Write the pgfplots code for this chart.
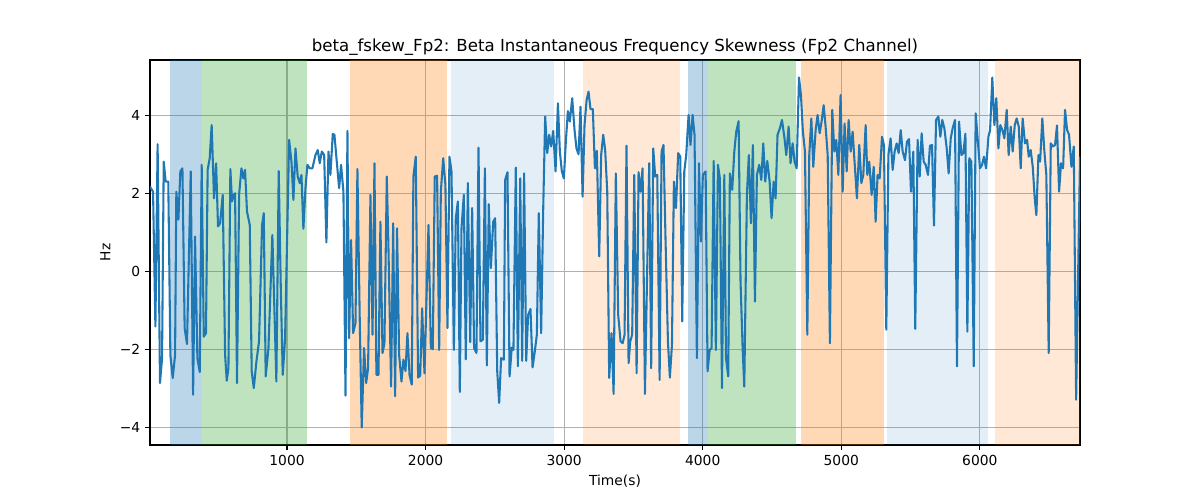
\documentclass[border=0pt]{standalone}
\usepackage{fontspec}
\setmainfont{DejaVu Sans}
\usepackage{pgfplots}
\pgfplotsset{compat=1.18}
\definecolor{tabblue}{HTML}{1F77B4}
\definecolor{tabgreen}{HTML}{2CA02C}
\definecolor{taborange}{HTML}{FF7F0E}
\definecolor{gridgray}{HTML}{B0B0B0}
\begin{document}
\begin{tikzpicture}
\path[use as bounding box] (0,0) rectangle (12in,5in);
\begin{axis}[at={(1.5in,0.55in)}, anchor=south west, scale only axis,
 width=9.3in, height=3.85in,
 xmin=11, xmax=6723, ymin=-4.46, ymax=5.42,
 xtick={1000,2000,3000,4000,5000,6000},
 xticklabels={1000,2000,3000,4000,5000,6000},
 ytick={-4,-2,0,2,4}, yticklabels={−4,−2,0,2,4},
 grid=major, grid style={gridgray, line width=0.8pt},
 axis line style={line width=0.8pt},
 tick style={black, line width=0.8pt}, major tick length=3.5pt,
 tick align=outside, tick pos=left,
 ticklabel style={font=\fontsize{10}{12}\selectfont},
 xlabel={Time(s)}, ylabel={Hz},
 label style={font=\fontsize{10}{12}\selectfont},
 title={beta\_fskew\_Fp2: Beta Instantaneous Frequency Skewness (Fp2 Channel)},
 title style={font=\fontsize{12}{14}\selectfont, yshift=-6pt},
 scaled x ticks=false, clip=true]
% shaded segments
\addplot[draw=none, fill=tabblue, fill opacity=0.3, forget plot] coordinates {(153,-4.46) (153,5.42) (389,5.42) (389,-4.46)} -- cycle;
\addplot[draw=none, fill=tabgreen, fill opacity=0.3, forget plot] coordinates {(389,-4.46) (389,5.42) (1147,5.42) (1147,-4.46)} -- cycle;
\addplot[draw=none, fill=taborange, fill opacity=0.3, forget plot] coordinates {(1453,-4.46) (1453,5.42) (2151,5.42) (2151,-4.46)} -- cycle;
\addplot[draw=none, fill=tabblue, fill opacity=0.12, forget plot] coordinates {(2182,-4.46) (2182,5.42) (2925,5.42) (2925,-4.46)} -- cycle;
\addplot[draw=none, fill=taborange, fill opacity=0.17, forget plot] coordinates {(3135,-4.46) (3135,5.42) (3835,5.42) (3835,-4.46)} -- cycle;
\addplot[draw=none, fill=tabblue, fill opacity=0.3, forget plot] coordinates {(3895,-4.46) (3895,5.42) (4035,5.42) (4035,-4.46)} -- cycle;
\addplot[draw=none, fill=tabgreen, fill opacity=0.3, forget plot] coordinates {(4035,-4.46) (4035,5.42) (4670,5.42) (4670,-4.46)} -- cycle;
\addplot[draw=none, fill=taborange, fill opacity=0.3, forget plot] coordinates {(4709,-4.46) (4709,5.42) (5308,5.42) (5308,-4.46)} -- cycle;
\addplot[draw=none, fill=tabblue, fill opacity=0.12, forget plot] coordinates {(5327,-4.46) (5327,5.42) (6057,5.42) (6057,-4.46)} -- cycle;
\addplot[draw=none, fill=taborange, fill opacity=0.17, forget plot] coordinates {(6109,-4.46) (6109,5.42) (6723,5.42) (6723,-4.46)} -- cycle;
% signal
\addplot[tabblue, line width=1.5pt, line join=round, mark=none] coordinates {
(11,2.17) (33,2.04) (50,-1.42) (66,3.26) (83,-2.87) (98,-2.23) (110,2.81) (124,2.30) (143,2.30) (158,-2.15) (175,-2.74) (192,-2.15) (201,2.04) (216,1.32) (230,2.56) (245,2.64) (261,-1.46) (278,-1.87) (305,2.56) (322,-3.17) (336,0.89) (353,-2.23) (370,-2.59) (384,2.73) (399,-1.68) (415,-1.59) (427,2.60) (442,2.90) (456,3.75) (473,1.87) (488,2.77) (502,1.15) (517,1.23) (536,1.96) (553,-2.15) (565,-2.81) (577,-2.49) (591,2.62) (603,1.79) (615,1.96) (625,2.00) (639,-2.87) (654,1.96) (671,2.64) (685,2.38) (697,2.60) (711,1.53) (731,1.19) (745,-2.57) (760,-3.00) (779,-2.32) (798,-1.80) (820,1.19) (832,1.49) (846,-2.70)
(866,-1.97) (894,0.93) (923,-2.83) (940,2.57) (955,-0.44) (969,-2.66) (986,-1.72) (1015,3.37) (1032,2.81) (1046,1.83) (1061,3.15) (1077,2.43) (1092,2.26) (1104,2.47) (1118,1.09) (1133,2.13) (1147,2.73) (1164,2.64) (1183,2.64) (1205,2.98) (1222,3.11) (1236,2.77) (1251,3.07) (1268,2.98) (1284,0.74) (1299,3.07) (1313,2.47) (1330,3.52) (1342,3.50) (1359,2.81) (1376,2.13) (1390,2.73) (1407,2.04) (1422,-3.19) (1436,3.60) (1448,-1.72) (1462,0.80) (1477,-1.59) (1494,-1.33) (1508,2.62) (1525,-1.29) (1539,-4.01) (1556,-1.97) (1571,-2.87) (1585,-2.49) (1602,1.96) (1617,-1.63) (1631,2.77) (1645,-2.66) (1660,-2.66) (1674,1.27) (1689,-2.10) (1703,-1.85) (1720,2.43)
(1732,0.59) (1751,-2.96) (1766,1.23) (1780,-3.21) (1794,1.10) (1809,-2.15) (1826,-2.83) (1840,-2.27) (1855,-2.56) (1869,-1.59) (1884,-2.66) (1900,-2.91) (1912,2.43) (1929,2.94) (1946,-2.73) (1961,-2.68) (1975,-0.95) (1992,-2.62) (2021,1.19) (2038,-1.97) (2052,-2.00) (2066,2.43) (2083,2.45) (2098,-2.02) (2110,2.04) (2127,2.90) (2143,2.21) (2158,-1.46) (2172,2.94) (2187,2.56) (2204,-2.02) (2218,1.36) (2233,1.79) (2247,-3.10) (2259,1.10) (2276,1.96) (2290,-2.26) (2305,2.26) (2322,-1.82) (2336,1.62) (2350,-1.97) (2367,-2.10) (2382,3.17) (2396,-1.80) (2413,-1.76) (2428,2.64) (2442,-2.42) (2456,1.72) (2471,0.08) (2488,1.27) (2502,1.36) (2517,-2.57) (2531,-3.38) (2545,-2.23) (2565,-2.27) (2574,2.34) (2591,2.54)
(2606,-2.70) (2622,-1.96) (2634,-2.02) (2651,2.66) (2666,-2.44) (2683,2.38) (2697,-2.30) (2711,2.51) (2726,-2.30) (2740,-1.12) (2757,-0.97) (2772,-2.47) (2788,-2.06) (2803,-1.63) (2817,1.49) (2834,-1.59) (2849,1.62) (2863,3.97) (2878,3.03) (2892,3.50) (2906,3.20) (2921,3.60) (2938,2.56) (2955,4.31) (2969,3.07) (2983,2.57) (2998,2.38) (3012,3.32) (3027,4.11) (3041,3.84) (3058,4.44) (3075,3.62) (3089,3.15) (3104,3.00) (3118,4.22) (3133,1.91) (3147,3.75) (3162,4.39) (3176,4.61) (3190,4.16) (3207,4.16) (3222,2.64) (3236,3.09) (3253,0.38) (3267,2.98) (3282,3.50) (3296,3.11) (3311,2.04) (3325,-2.74) (3342,-1.59) (3357,-3.15) (3373,2.51) (3390,-1.12) (3407,-1.80) (3422,-1.85) (3436,-1.63) (3450,3.22) (3465,-2.36)
(3477,-1.80) (3491,-1.63) (3506,2.47) (3523,-2.62) (3537,2.54) (3551,2.04) (3566,2.64) (3583,-3.15) (3598,-0.20) (3614,2.77) (3628,-2.49) (3643,3.15) (3657,2.43) (3672,2.47) (3689,-2.79) (3703,3.07) (3717,3.24) (3732,0.76) (3749,-1.80) (3763,-2.73) (3778,-1.89) (3792,2.30) (3807,1.62) (3823,3.03) (3838,2.94) (3852,-1.29) (3867,2.56) (3881,2.98) (3898,4.01) (3912,3.24) (3927,4.01) (3941,3.50) (3958,-2.23) (3973,2.77) (3987,0.76) (4001,2.47) (4021,2.56) (4035,-2.57) (4050,-2.02) (4064,-1.97) (4079,2.83) (4095,-2.02) (4110,2.73) (4124,2.38) (4139,-3.00) (4156,2.47) (4168,-2.23) (4184,-2.70) (4196,2.51) (4213,2.09) (4228,3.07) (4242,3.58) (4259,3.85) (4273,-0.26) (4288,-1.97) (4300,-2.96)
(4319,1.96) (4333,2.98) (4348,1.23) (4362,3.24) (4377,-0.78) (4391,2.47) (4408,2.73) (4423,2.34) (4437,3.28) (4451,2.30) (4466,2.83) (4483,2.30) (4497,1.36) (4512,2.30) (4526,1.87) (4540,3.50) (4557,3.67) (4572,3.88) (4589,3.45) (4603,2.98) (4620,3.71) (4634,2.77) (4649,3.28) (4663,2.81) (4678,2.64) (4695,4.97) (4709,4.52) (4723,3.58) (4738,3.07) (4755,-1.63) (4769,2.98) (4784,3.92) (4798,2.68) (4815,3.62) (4829,4.01) (4844,3.54) (4858,3.84) (4873,4.26) (4887,3.71) (4902,2.98) (4918,-1.85) (4935,4.14) (4950,3.07) (4964,3.37) (4979,2.47) (4995,4.52) (5010,2.04) (5024,3.79) (5039,2.56) (5053,3.88) (5068,3.07) (5082,3.58) (5099,2.64) (5113,1.87) (5130,3.24) (5145,2.26) (5159,2.47) (5176,3.75)
(5188,2.47) (5202,2.81) (5219,1.96) (5234,2.68) (5248,1.27) (5262,2.47) (5277,2.38) (5294,3.45) (5308,3.24) (5325,-1.50) (5340,2.98) (5356,3.41) (5371,2.60) (5385,3.07) (5400,3.28) (5414,3.03) (5429,3.62) (5443,3.07) (5460,2.85) (5474,3.32) (5489,3.39) (5503,2.04) (5520,3.07) (5534,-1.48) (5551,3.37) (5566,2.43) (5580,3.54) (5595,2.81) (5609,2.73) (5626,2.47) (5640,3.22) (5655,3.24) (5669,1.17) (5684,3.88) (5701,3.97) (5715,3.45) (5729,3.88) (5744,3.67) (5761,3.15) (5775,2.51) (5790,3.41) (5804,3.67) (5821,3.88) (5835,-2.44) (5850,3.84) (5867,2.98) (5881,3.03) (5896,3.53) (5910,-1.55) (5924,2.90) (5939,2.81) (5956,-2.44) (5970,4.05) (5985,3.37) (6001,2.64) (6016,2.73) (6030,2.94) (6045,2.64) (6062,3.45)
(6074,3.62) (6090,4.97) (6105,3.75) (6119,4.44) (6134,3.15) (6148,3.75) (6163,3.62) (6177,3.41) (6194,4.14) (6208,2.98) (6223,3.71) (6237,3.07) (6252,3.75) (6266,3.92) (6281,3.71) (6295,2.64) (6309,3.92) (6326,3.28) (6341,3.37) (6353,2.94) (6367,3.11) (6382,2.68) (6396,1.87) (6408,1.44) (6423,2.98) (6435,2.81) (6451,3.92) (6466,3.07) (6480,2.47) (6497,-2.10) (6512,3.28) (6528,3.20) (6543,3.24) (6557,3.74) (6572,2.04) (6586,2.77) (6601,2.64) (6615,4.14) (6630,3.62) (6644,3.50) (6661,2.68) (6678,3.20) (6695,-3.30) (6723,2.94)
};
\end{axis}
\end{tikzpicture}
\end{document}
